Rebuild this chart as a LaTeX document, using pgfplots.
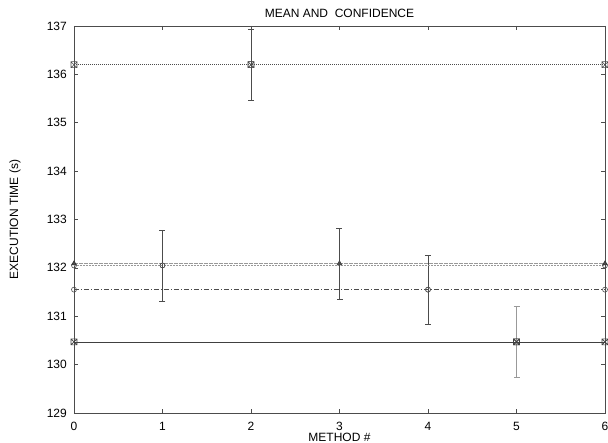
\documentclass[border=0pt]{standalone}
\usepackage{pgfplots}
\pgfplotsset{compat=1.18}
\usepackage{fontspec}
\setmainfont{Liberation Sans}
\pgfdeclareplotmark{sqx}{%
  \pgfpathrectangle{\pgfqpoint{-\pgfplotmarksize}{-\pgfplotmarksize}}{\pgfqpoint{2\pgfplotmarksize}{2\pgfplotmarksize}}%
  \pgfpathmoveto{\pgfqpoint{-\pgfplotmarksize}{-\pgfplotmarksize}}%
  \pgfpathlineto{\pgfqpoint{\pgfplotmarksize}{\pgfplotmarksize}}%
  \pgfpathmoveto{\pgfqpoint{-\pgfplotmarksize}{\pgfplotmarksize}}%
  \pgfpathlineto{\pgfqpoint{\pgfplotmarksize}{-\pgfplotmarksize}}%
  \pgfusepathqstroke}
\definecolor{axgray}{gray}{0.3}
\definecolor{lgray}{gray}{0.6}
\begin{document}
\begin{tikzpicture}
\begin{axis}[
  scale only axis,
  width=531pt, height=387pt,
  xmin=0, xmax=6, ymin=129, ymax=137,
  xtick={0,...,6}, ytick={129,...,137},
  tick align=inside,
  major tick length=4pt,
  tick style={axgray, line width=0.6pt},
  axis line style={axgray, line width=0.8pt},
  font=\fontsize{12}{14}\selectfont,
  /pgf/number format/assume math mode=true,
  title={MEAN AND\ \ CONFIDENCE},
  every axis title/.style={at={(axis description cs:0.5,1)}, anchor=base, inner sep=0pt, yshift=8pt},
  xlabel={METHOD \#},
  ylabel={EXECUTION TIME (s)},
  every axis x label/.style={at={(axis description cs:0.5,-0.0517)}, anchor=north, inner sep=0pt},
  every axis y label/.style={at={(axis description cs:-0.1111,0.5)}, anchor=center, rotate=90, inner sep=0pt},
  xticklabel style={inner sep=0pt, anchor=north, yshift=-9pt},
  yticklabel style={inner sep=0pt, anchor=east, xshift=-7pt},
  clip=false,
  error bars/error bar style={line width=0.7pt},
  error bars/error mark options={rotate=90, mark size=3pt, line width=0.7pt},
]
% series 5: solid, square-x
\addplot[black!75, line width=0.7pt, mark=sqx, mark size=3pt, mark options={solid, line width=0.6pt}] coordinates {(0,130.47) (5,130.47) (6,130.47)};
\addplot[lgray, only marks, mark=sqx, mark size=3pt, mark options={black!75, line width=0.6pt},
  error bars/.cd, y dir=both, y explicit,
  error bar style={lgray, line width=1pt}, error mark options={lgray, rotate=90, mark size=3pt, line width=1pt}]
  coordinates {(5,130.47) +- (0,0.73)};
% series 4: dash-dot, circle
\addplot[black!70, line width=0.6pt, dash pattern=on 5pt off 2pt on 1pt off 2pt, mark=o, mark size=2.5pt, mark options={solid}] coordinates {(0,131.55) (4,131.55) (6,131.55)};
\addplot[axgray, only marks, mark=o, mark size=2.5pt,
  error bars/.cd, y dir=both, y explicit,
  error bar style={axgray}, error mark options={axgray, rotate=90, mark size=3pt}]
  coordinates {(4,131.55) +- (0,0.72)};
% series 1: gray dotted, circle
\addplot[lgray, line width=1pt, dash pattern=on 2pt off 1pt, mark=o, mark size=2.5pt, mark options={solid, axgray, line width=0.6pt}] coordinates {(0,132.05) (1,132.05) (6,132.05)};
\addplot[axgray, only marks, mark=o, mark size=2.5pt,
  error bars/.cd, y dir=both, y explicit,
  error bar style={axgray}, error mark options={axgray, rotate=90, mark size=3pt}]
  coordinates {(1,132.05) +- (0,0.73)};
% series 3: gray dashed, triangle
\addplot[lgray, line width=1pt, dash pattern=on 4pt off 1pt, mark=triangle*, mark size=2.6pt, mark options={solid, fill=black!70, draw=black!80, line width=0.6pt}] coordinates {(0,132.09) (3,132.09) (6,132.09)};
\addplot[axgray, only marks, mark=triangle*, mark size=2.6pt, mark options={fill=black!70},
  error bars/.cd, y dir=both, y explicit,
  error bar style={axgray}, error mark options={axgray, rotate=90, mark size=3pt}]
  coordinates {(3,132.09) +- (0,0.73)};
% series 2: black dotted, square-x
\addplot[black!70, line width=0.7pt, dash pattern=on 1pt off 1pt, mark=sqx, mark size=3pt, mark options={solid, line width=0.6pt}] coordinates {(0,136.2) (2,136.2) (6,136.2)};
\addplot[axgray, only marks, mark=sqx, mark size=3pt,
  error bars/.cd, y dir=both, y explicit,
  error bar style={axgray}, error mark options={axgray, rotate=90, mark size=3pt}]
  coordinates {(2,136.2) +- (0,0.73)};
\end{axis}
\pgfresetboundingbox
\path[use as bounding box] ([shift={(-74pt,-30pt)}]current axis.south west) rectangle ([shift={(3pt,26pt)}]current axis.north east);
\end{tikzpicture}
\end{document}
